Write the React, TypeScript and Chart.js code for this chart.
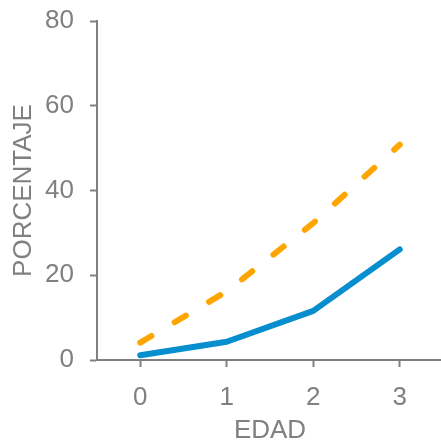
import React, { useEffect, useRef } from "react";
import { Chart, registerables } from "chart.js";

Chart.register(...registerables);

const categories = ["0", "1", "2", "3"];
const blueSeries = [1.1, 4.3, 11.6, 26.1];
const orangeSeries = [4.1, 16.2, 32.3, 50.8];
const yTicks = [0, 20, 40, 60, 80];

const GRAY = "#808080";
const FONT = "'Liberation Sans', Arial, sans-serif";

export default function App() {
  const ref = useRef<HTMLCanvasElement | null>(null);

  useEffect(() => {
    if (!ref.current) return;
    const chart = new Chart(ref.current, {
      type: "line",
      data: {
        labels: categories,
        datasets: [
          {
            data: orangeSeries,
            borderColor: "#FFA500",
            borderWidth: 6,
            borderDash: [13, 27],
            borderCapStyle: "round",
            borderJoinStyle: "round",
            pointRadius: 0,
            tension: 0,
            fill: false,
          },
          {
            data: blueSeries,
            borderColor: "#078ECF",
            borderWidth: 6,
            borderCapStyle: "round",
            borderJoinStyle: "round",
            pointRadius: 0,
            tension: 0,
            fill: false,
          },
        ],
      },
      options: {
        responsive: false,
        animation: false,
        layout: { padding: { top: 21, left: 0, right: 0, bottom: 0 } },
        plugins: { legend: { display: false }, tooltip: { enabled: false } },
        scales: {
          x: {
            type: "category",
            offset: true,
            grid: {
              display: true,
              drawOnChartArea: false,
              drawTicks: true,
              tickLength: 7,
              tickColor: GRAY,
              tickWidth: 2,
              offset: false,
            },
            border: { display: true, color: GRAY, width: 2 },
            ticks: {
              color: GRAY,
              font: { family: FONT, size: 26 },
              padding: 15,
              maxRotation: 0,
            },
            title: {
              display: true,
              text: "EDAD",
              color: GRAY,
              font: { family: FONT, size: 26 },
              padding: { top: 0, bottom: 14 },
            },
            afterFit: (axis: any) => {
              axis.height = 100;
              axis.paddingLeft = 0;
              axis.paddingRight = 0;
            },
          },
          y: {
            min: 0,
            max: 80,
            afterBuildTicks: (axis: any) => {
              axis.ticks = yTicks.map((v) => ({ value: v }));
            },
            grid: {
              display: true,
              drawOnChartArea: false,
              drawTicks: true,
              tickLength: 7,
              tickColor: GRAY,
              tickWidth: 2,
            },
            border: { display: true, color: GRAY, width: 2 },
            ticks: {
              color: GRAY,
              font: { family: FONT, size: 26 },
              padding: 16,
            },
            title: {
              display: true,
              text: "PORCENTAJE",
              color: GRAY,
              font: { family: FONT, size: 26 },
              padding: { top: 8, bottom: 0 },
            },
            afterFit: (axis: any) => {
              axis.width = 97;
              axis.paddingTop = 0;
              axis.paddingBottom = 0;
            },
          },
        },
      },
    });
    return () => chart.destroy();
  }, []);

  return (
    <div
      style={{
        position: "fixed",
        left: 0,
        top: 0,
        width: 441,
        height: 441,
        overflow: "hidden",
        background: "#fff",
      }}
    >
      <canvas ref={ref} width={443} height={460} style={{ display: "block" }} />
    </div>
  );
}
